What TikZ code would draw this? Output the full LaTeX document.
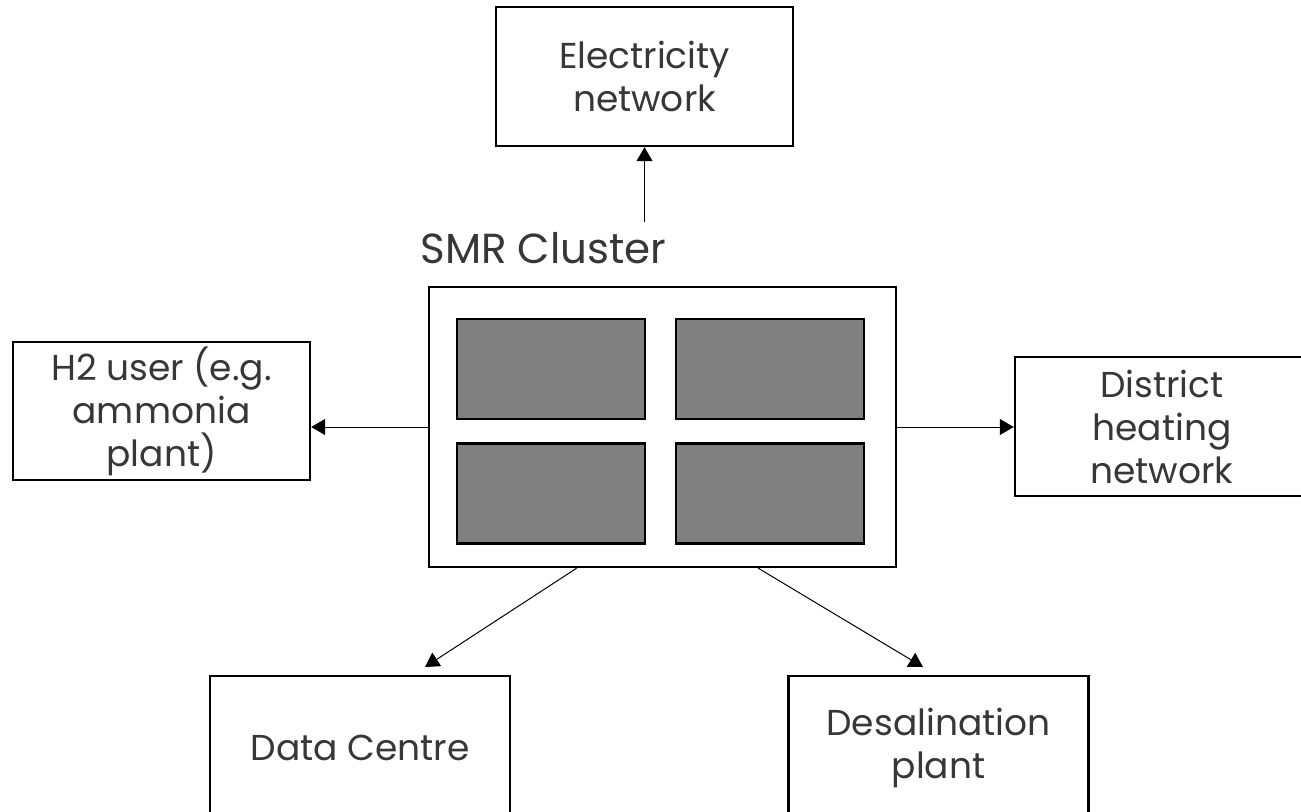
\documentclass[tikz,border=0pt]{standalone}
\usepackage{fontspec}
\setmainfont{Poppins}
\usetikzlibrary{arrows.meta,calc}
\definecolor{txtgray}{RGB}{55,55,55}
\definecolor{unitgray}{RGB}{128,128,128}
\tikzset{
  box/.style={draw,line width=1.2pt,minimum width=148.5pt,align=center,inner ysep=0pt,text=txtgray,font=\fontsize{18}{21.5}\selectfont},
  unit/.style={draw,line width=1.2pt,fill=unitgray,minimum width=94pt,minimum height=50pt},
  arr/.style={-{Triangle[length=7pt,width=8pt]},line width=0.5pt}
}
\begin{document}
\begin{tikzpicture}[x=0.5pt,y=-0.5pt]
\clip (0,0) rectangle (1301,811);
\fill[white] (0,0) rectangle (1301,811);
% cluster of reactors
\node [draw,line width=1.2pt,minimum width=233.5pt,minimum height=140pt] (cluster) at (662.5,427) {};
\node [unit] (u1) at (551,369) {};
\node [unit] (u2) at (770,369) {};
\node [unit] (u3) at (551,493.5) {};
\node [unit] (u4) at (770,493.5) {};
\node [text=txtgray,font=\fontsize{21}{25}\selectfont,anchor=base west,inner sep=0pt] (lbl) at (420,263) {SMR Cluster};
% users
\node [box,minimum height=69.5pt] (elec) at (644.5,76.5) {Electricity\\network};
\node [box,minimum height=69pt] (h2) at (161.5,411) {H2 user (e.g.\\ammonia\\plant)};
\node [box,minimum width=147pt,minimum height=69.5pt] (heat) at (1162,426.5) {District\\heating\\network};
\node [box,minimum width=150pt,minimum height=72pt] (data) at (360,748) {Data Centre};
\node [box,minimum width=150pt,minimum height=72pt] (desal) at (938.5,748) {Desalination\\plant};
% connectors
\coordinate (estart) at (644.5,222);
\coordinate (dtip) at (425,667);
\coordinate (stip) at (923,667);
\draw[arr] (estart) -- (elec.south);
\draw[arr] (cluster.west) -- (cluster.west -| h2.east);
\draw[arr] (cluster.east) -- (cluster.east -| heat.west);
\draw[arr] ($(cluster.south west)!0.317!(cluster.south east)$) -- (dtip);
\draw[arr] ($(cluster.south west)!0.704!(cluster.south east)$) -- (stip);
\end{tikzpicture}
\end{document}
